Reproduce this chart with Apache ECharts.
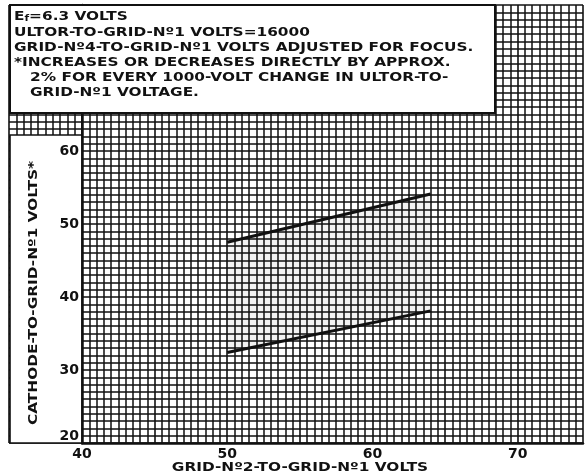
<!DOCTYPE html>
<html>
<head>
<meta charset="utf-8">
<script src="https://cdn.jsdelivr.net/npm/echarts@6/dist/echarts.min.js"></script>
<style>
  html, body { margin: 0; padding: 0; background: #fff; }
  #chart { width: 586px; height: 476px; }
</style>
</head>
<body>
<div id="chart"></div>
<script>
// data
const gridVolts = [50, 64];          // grid-No.2-to-grid-No.1 volts
const upperLimit = [47.5, 54.1];     // cathode-to-grid-No.1 volts, upper curve
const lowerLimit = [32.4, 38.1];     // lower curve
const xTickLabels = [40, 50, 60, 70];
const yTickLabels = [20, 30, 40, 50, 60];
const noteLines = [
  'ULTOR-TO-GRID-N\u00BA1 VOLTS=16000',
  'GRID-N\u00BA4-TO-GRID-N\u00BA1 VOLTS ADJUSTED FOR FOCUS.',
  '*INCREASES OR DECREASES DIRECTLY BY APPROX.',
  '   2% FOR EVERY 1000-VOLT CHANGE IN ULTOR-TO-',
  '   GRID-N\u00BA1 VOLTAGE.'
];

const FONT = 'DejaVu Sans';
const TXT = 'bold 13px "DejaVu Sans"';
const WIDE = 1.18;   // the hand lettering is wider than the font
const ink = '#111';

const chart = echarts.init(document.getElementById('chart'));

const paperAxis = (min, max, interval, minorSplit) => ({
  type: 'value',
  min: min,
  max: max,
  interval: interval,
  axisTick: {show: false},
  axisLabel: {show: false},
  axisLine: {show: false},
  splitLine: {show: true, lineStyle: {color: ink, width: 1.6}},
  minorTick: {show: false, splitNumber: minorSplit},
  minorSplitLine: {show: true, lineStyle: {color: ink, width: 1.5}}
});

const mainX = Object.assign(paperAxis(40, 74.5, 5, 10), {
  gridIndex: 0,
  axisLine: {show: true, onZero: false, lineStyle: {color: ink, width: 2.5}},
  axisLabel: {
    show: true, margin: 4, color: ink, fontFamily: FONT, fontWeight: 'bold', fontSize: 14,
    formatter: v => xTickLabels.indexOf(v) >= 0 ? String(v) : ''
  }
});
// y axis sits above the white label panel so its numbers stay visible
const mainY = Object.assign(paperAxis(20, 80, 5, 5), {
  gridIndex: 0,
  z: 10,
  axisLine: {show: true, onZero: false, lineStyle: {color: ink, width: 2.5}},
  axisLabel: {
    show: true, margin: 3, color: ink, fontFamily: FONT, fontWeight: 'bold', fontSize: 14,
    verticalAlignMinLabel: 'bottom',
    formatter: v => yTickLabels.indexOf(v) >= 0 ? String(v) : ''
  }
});

const sideX = Object.assign(paperAxis(35, 40, 5, 10), {gridIndex: 1});
const sideY = Object.assign(paperAxis(20, 80, 5, 5), {gridIndex: 1});

const curve = vals => gridVolts.map((x, i) => [x, vals[i]]);

const textAt = (t, x, y, extra) => Object.assign({
  type: 'text', z: 101, x: x, y: y, scaleX: WIDE,
  style: {text: t, font: TXT, fill: ink, verticalAlign: 'middle'}
}, extra || {});

chart.setOption({
  animation: false,
  grid: [
    {left: 82, right: 0, top: 5, bottom: 33},
    {left: 9, width: 73, top: 5, bottom: 33}
  ],
  xAxis: [mainX, sideX],
  yAxis: [mainY, sideY],
  series: [
    {
      type: 'custom',
      xAxisIndex: 0, yAxisIndex: 0,
      silent: true,
      z: 1,
      renderItem: (params, api) => {
        const pts = [];
        gridVolts.forEach((x, i) => pts.push(api.coord([x, upperLimit[i]])));
        for (let i = gridVolts.length - 1; i >= 0; i--) pts.push(api.coord([gridVolts[i], lowerLimit[i]]));
        return {type: 'polygon', shape: {points: pts}, style: {fill: 'rgba(0,0,0,0.05)'}};
      },
      data: [0]
    },
    {
      type: 'line', name: 'upper', data: curve(upperLimit),
      symbol: 'none', lineStyle: {color: ink, width: 3}, z: 5
    },
    {
      type: 'line', name: 'lower', data: curve(lowerLimit),
      symbol: 'none', lineStyle: {color: ink, width: 3}, z: 5
    }
  ],
  graphic: [
    {
      type: 'rect', z: 100,
      shape: {x: 10, y: 5, width: 485, height: 108},
      style: {fill: '#fff', stroke: ink, lineWidth: 2}
    },
    {
      type: 'rect', z: 2,
      shape: {x: 10, y: 135, width: 72, height: 308},
      style: {fill: '#fff', stroke: ink, lineWidth: 1.6}
    },
    textAt('E{s|f}=6.3 VOLTS', 14, 17, {
      style: {
        text: 'E{s|f}=6.3 VOLTS', font: TXT, fill: ink, verticalAlign: 'middle',
        rich: {s: {fontSize: 9, fontWeight: 'bold', fontFamily: FONT, padding: [4, 0, 0, 0]}}
      }
    })
  ].concat(noteLines.map((t, i) => textAt(t, 14, 33 + i * 15)))
   .concat([
    textAt('CATHODE-TO-GRID-N\u00BA1 VOLTS*', 34, 293, {
      rotation: Math.PI / 2,
      style: {text: 'CATHODE-TO-GRID-N\u00BA1 VOLTS*', font: TXT, fill: ink, align: 'center', verticalAlign: 'middle'}
    }),
    textAt('GRID-N\u00BA2-TO-GRID-N\u00BA1 VOLTS', 300, 468, {
      style: {text: 'GRID-N\u00BA2-TO-GRID-N\u00BA1 VOLTS', font: TXT, fill: ink, align: 'center', verticalAlign: 'middle'}
    })
  ])
});
</script>
</body>
</html>
